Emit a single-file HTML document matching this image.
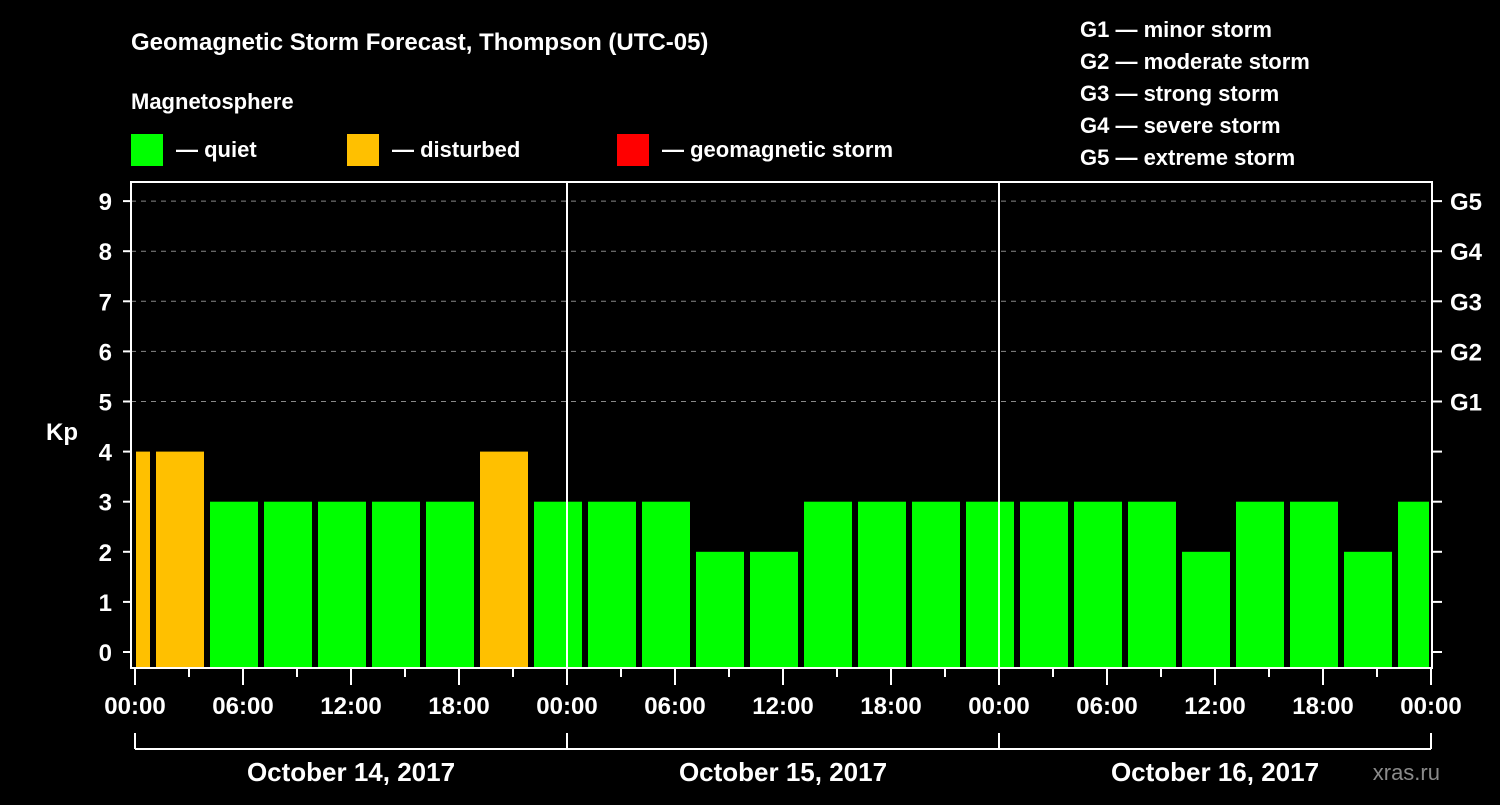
<!DOCTYPE html>
<html><head><meta charset="utf-8"><style>
body{margin:0;background:#000;width:1500px;height:800px;overflow:hidden}
svg text{font-family:"Liberation Sans",Arial,sans-serif;font-weight:bold;fill:#fff}
</style></head><body>
<svg id="chart" width="1500" height="800" xmlns="http://www.w3.org/2000/svg">
<text x="131" y="50" font-size="24">Geomagnetic Storm Forecast, Thompson (UTC-05)</text>
<text x="131" y="109" font-size="22">Magnetosphere</text>
<g>
<rect x="131" y="134" width="32" height="32" fill="#00ff00"/>
<text x="176" y="157" font-size="22">— quiet</text>
<rect x="347" y="134" width="32" height="32" fill="#ffc000"/>
<text x="392" y="157" font-size="22">— disturbed</text>
<rect x="617" y="134" width="32" height="32" fill="#ff0000"/>
<text x="662" y="157" font-size="22">— geomagnetic storm</text>
</g>
<g font-size="22">
<text x="1080" y="37">G1 — minor storm</text>
<text x="1080" y="69">G2 — moderate storm</text>
<text x="1080" y="101">G3 — strong storm</text>
<text x="1080" y="133">G4 — severe storm</text>
<text x="1080" y="165">G5 — extreme storm</text>
</g>
<text x="62" y="440" font-size="24" text-anchor="middle">Kp</text>
<text x="1440" y="780" font-size="22" text-anchor="end" fill="#888" style="fill:#8a8a8a;font-weight:normal">xras.ru</text>
<g id="plot"></g>
</svg>
<script>
const kpValues=[4,4,3,3,3,3,3,4,3,3,3,2,2,3,3,3,3,3,3,3,2,3,3,2,3];
const dayLabels=["October 14, 2017","October 15, 2017","October 16, 2017"];
const hourLabels=["00:00","06:00","12:00","18:00"];
const gLabels=["G1","G2","G3","G4","G5"];
const firstBarHour=-2;
const NS="http://www.w3.org/2000/svg";
const g=document.getElementById('plot');
const X0=135,PXH=18,Y0=652,PXK=50.1,TOP=182,BOT=668,RIGHT=1432;
const xs=h=>X0+h*PXH, ys=k=>Y0-k*PXK;
function mk(t,a,p){const e=document.createElementNS(NS,t);for(const k in a)e.setAttribute(k,a[k]);(p||g).appendChild(e);return e;}
// grid
for(let k=5;k<=9;k++){const l=mk('line',{x1:131,x2:RIGHT,y1:ys(k),y2:ys(k),stroke:'#888','stroke-dasharray':'5,5'});

}
// bars
kpValues.forEach((v,i)=>{
 let x1=xs(firstBarHour+i*3)+3,x2=xs(firstBarHour+i*3+3)-3;
 x1=Math.max(x1,X0+1);x2=Math.min(x2,RIGHT-3);
 const r=mk('rect',{x:x1,y:ys(v),width:x2-x1,height:BOT-ys(v),fill:v>=5?'#ff0000':(v>=4?'#ffc000':'#00ff00')});
 
 
});
// day separators
for(let d=1;d<3;d++){const l=mk('line',{x1:xs(d*24),x2:xs(d*24),y1:TOP,y2:BOT,stroke:'#fff','stroke-width':2});

}
// frame
const f=mk('rect',{x:131,y:TOP,width:RIGHT-131,height:BOT-TOP,fill:'none',stroke:'#fff','stroke-width':2});


// y ticks
for(let k=0;k<=9;k++){
 mk('line',{x1:123,x2:131,y1:ys(k),y2:ys(k),stroke:'#fff','stroke-width':2});
 mk('line',{x1:RIGHT,x2:1442,y1:ys(k),y2:ys(k),stroke:'#fff','stroke-width':2});
 const t=mk('text',{x:112,y:ys(k)+9,'font-size':24,'text-anchor':'end'});t.textContent=k;
 
 
}
gLabels.forEach((s,i)=>{const t=mk('text',{x:1450,y:ys(5+i)+9,'font-size':24});t.textContent=s;

});
// x ticks
for(let h=0;h<=72;h+=3){
 const major=h%6===0;
 mk('line',{x1:xs(h),x2:xs(h),y1:BOT,y2:BOT+(major?17:9),stroke:'#fff','stroke-width':2});
 if(major){const t=mk('text',{x:xs(h),y:714,'font-size':24,'text-anchor':'middle'});t.textContent=hourLabels[(h%24)/6];
 
 }
}
// day brackets
mk('line',{x1:X0,x2:xs(72),y1:749,y2:749,stroke:'#fff','stroke-width':2});
for(let d=0;d<=3;d++)mk('line',{x1:xs(d*24),x2:xs(d*24),y1:733,y2:749,stroke:'#fff','stroke-width':2});
dayLabels.forEach((s,d)=>{const t=mk('text',{x:xs(d*24+12),y:781,'font-size':26,'text-anchor':'middle'});t.textContent=s;

});
</script>
</body></html>
